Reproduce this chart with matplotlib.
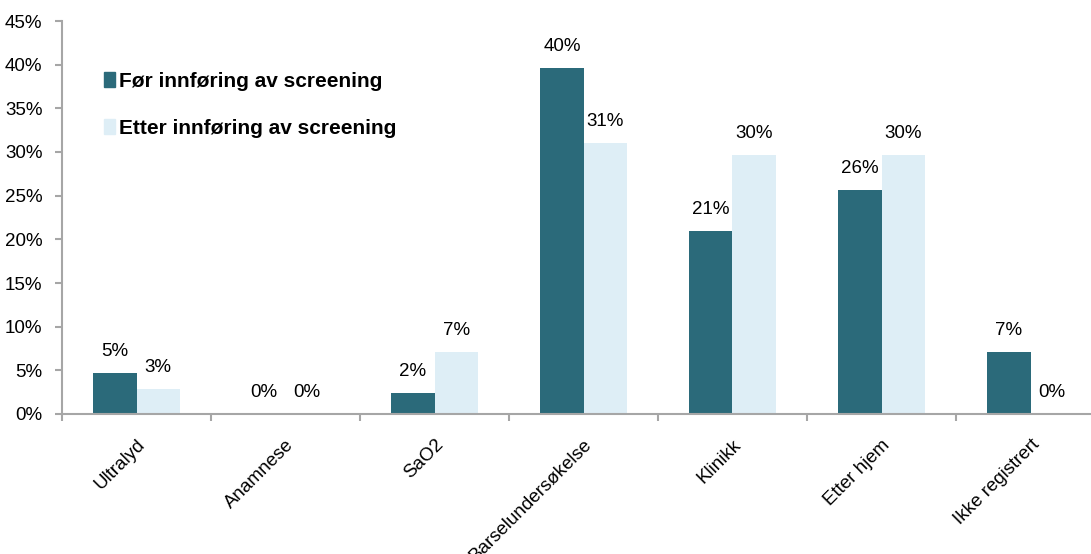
import matplotlib.pyplot as plt
import numpy as np
from matplotlib.ticker import PercentFormatter
from matplotlib.patches import Patch
from matplotlib.transforms import ScaledTranslation

plt.rcParams['font.family'] = ['Liberation Sans', 'DejaVu Sans']

categories = ['Ultralyd', 'Anamnese', 'SaO2', 'Barselundersøkelse',
              'Klinikk', 'Etter hjem', 'Ikke registrert']
before = [4.7, 0.0, 2.4, 39.6, 21.0, 25.7, 7.1]
after = [2.9, 0.0, 7.1, 31.0, 29.7, 29.7, 0.0]
series_names = ['Før innføring av screening', 'Etter innføring av screening']

dark = '#2b6a7a'
light = '#deeef6'
axis_col = '#a6a6a6'

fig = plt.figure(figsize=(10.91, 5.54), dpi=100)
# axes run past the right edge so the last group sits at the border
ax = fig.add_axes([62 / 1091, 140 / 554, 1043 / 1091, 393 / 554])

x = np.arange(len(categories))
w = 0.29
b1 = ax.bar(x - w / 2, before, w, color=dark, label=series_names[0])
b2 = ax.bar(x + w / 2, after, w, color=light, label=series_names[1])

for bars, vals in [(b1, before), (b2, after)]:
    for rect, v in zip(bars, vals):
        ax.annotate(f'{v:.0f}%', (rect.get_x() + rect.get_width() / 2, v),
                    xytext=(0, 12.2), textcoords='offset points',
                    ha='center', va='baseline', fontsize=13.5)

ax.set_xlim(-0.5, len(categories) - 0.5)
ax.set_ylim(0, 45)
ax.set_yticks(np.arange(0, 46, 5))
ax.yaxis.set_major_formatter(PercentFormatter(decimals=0))

ax.set_xticks(x)
ax.set_xticklabels(categories, rotation=45, ha='right', va='top',
                   rotation_mode='anchor', fontsize=13.5)
shift = ScaledTranslation(5 / 100, 0, fig.dpi_scale_trans)
for lab in ax.get_xticklabels():
    lab.set_transform(lab.get_transform() + shift)
ax.set_xticks(np.arange(-0.5, len(categories)), minor=True)
ax.tick_params(axis='x', which='major', length=0, pad=16)
ax.tick_params(axis='x', which='minor', length=5, width=1.5, color=axis_col)
ax.tick_params(axis='y', length=5, width=1.5, color=axis_col, labelsize=13.5, pad=9)

for s in ['top', 'right']:
    ax.spines[s].set_visible(False)
for s in ['left', 'bottom']:
    ax.spines[s].set_color(axis_col)
    ax.spines[s].set_linewidth(1.5)

handles = [Patch(color=dark), Patch(color=light)]
ax.legend(handles, series_names, loc='upper left',
          bbox_to_anchor=(104 / 1091, 1 - 72 / 554), bbox_transform=fig.transFigure,
          frameon=False, handlelength=0.55, handleheight=0.75, handletextpad=0.15,
          labelspacing=1.35, borderaxespad=0, borderpad=0,
          prop={'weight': 'bold', 'size': 15})

fig.savefig('out.png', dpi=100)
